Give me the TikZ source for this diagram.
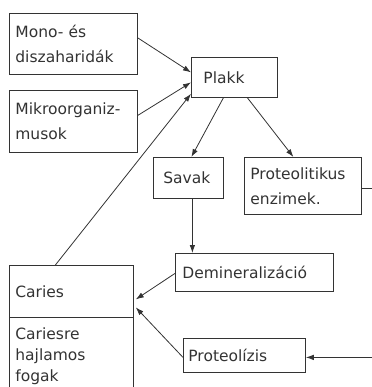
\documentclass[tikz,border=0pt]{standalone}
\usepackage{fontspec}
\setmainfont{DejaVu Sans}
\usetikzlibrary{arrows.meta,calc}
\begin{document}
\begin{tikzpicture}[x=1pt,y=-1pt,
  ink/.style={draw=black!80, line width=0.8pt},
  box/.style={ink, rectangle, align=left, anchor=north west, inner ysep=0pt, inner xsep=6pt,
    text=black!80, font=\fontsize{15.5}{25}\selectfont},
  conn/.style={ink, -{Latex[length=8pt,width=5.5pt]}}
]
\useasboundingbox (0,0) rectangle (371,387);
\node[box, text width=116, minimum height=61] (mono) at (9,13) {Mono- és\\diszaharidák};
\node[box, text width=116, minimum height=62] (mikro) at (9,90) {Mikroorganiz-\\musok};
\node[box, inner xsep=12pt, text width=62, minimum height=40] (plakk) at (191,57) {Plakk};
\node[box, inner xsep=10pt, text width=50, minimum height=41] (savak) at (153,157) {Savak};
\node[box, text width=105, minimum height=57] (prot) at (244,157) {Proteolitikus\\enzimek.};
\node[box, inner xsep=7pt, text width=144, minimum height=38] (demin) at (175,253) {Demineralizáció};
\node[box, inner xsep=5pt, text width=112, minimum height=34] (proteo) at (183,338) {Proteolízis};
\node[box, text width=112, minimum height=52] (caries) at (9,265) {Caries};
\node[box, text width=112, minimum height=78, font=\fontsize{15.5}{21}\selectfont] (hajl) at (9,317) {Cariesre\\hajlamos\\fogak};
\coordinate (rc) at (376,188);
\coordinate (sd) at ($(savak.south)+(4,0)$);

\draw[conn] ($(mono.east)+(0,-6)$) -- ($(plakk.west)+(0,-5)$);
\draw[conn] ($(mikro.east)+(0,-6)$) -- ($(plakk.west)+(0,5)$);
\draw[conn] ($(caries.north)+(-16,0)$) -- ($(plakk.south west)+(0,-4)$);
\draw[conn] ($(plakk.south)+(-11,0)$) -- ($(savak.north)+(3,0)$);
\draw[conn] ($(plakk.south)+(13,0)$) -- ($(prot.north)+(-9.5,0)$);
\draw[conn] (sd) -- (sd |- demin.north);
\draw[conn] ($(demin.west)+(0,1)$) -- ($(caries.east)+(2,8)$);
\draw[conn] ($(proteo.west)+(0,2)$) -- ($(caries.east)+(2,16)$);
\draw[conn] (prot.east |- rc) -- (rc) |- ($(proteo.east)+(0,2)$);
\end{tikzpicture}
\end{document}
